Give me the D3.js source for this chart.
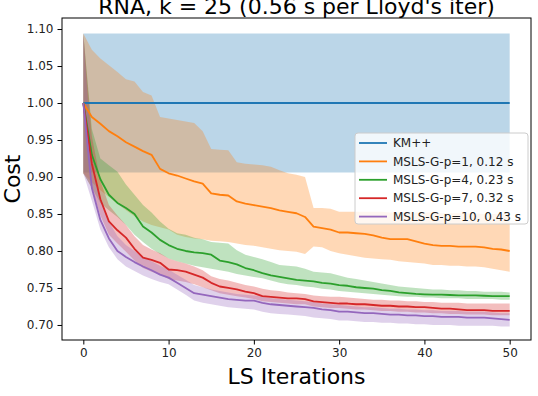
<!DOCTYPE html>
<html>
<head>
<meta charset="utf-8">
<script src="https://cdn.jsdelivr.net/npm/d3@7"></script>
<style>
  body { margin: 0; background: #fff; }
  svg { display: block; font-family: "DejaVu Sans", sans-serif; }
</style>
</head>
<body>
<svg width="538" height="396"></svg>
<script>
var width = 538,
  height = 396;

// LS iteration index (x axis)
var iters = [0,1,2,3,4,5,6,7,8,9,10,11,12,13,14,15,16,17,18,19,20,21,22,23,24,25,
  26,27,28,29,30,31,32,33,34,35,36,37,38,39,40,41,42,43,44,45,46,47,48,49,50];

// KM++ baseline (normalised cost) and its band
var kmMean = 1.0, kmLo = 0.906, kmHi = 1.094;

var p1Mean = [1.000,0.981,0.972,0.962,0.955,0.947,0.941,0.935,0.930,0.911,0.905,0.902,0.898,0.894,0.891,0.878,0.876,0.875,0.867,0.864,0.862,0.860,0.858,0.855,0.853,0.851,
  0.846,0.833,0.831,0.829,0.825,0.825,0.824,0.823,0.821,0.818,0.816,0.816,0.816,0.813,0.810,0.808,0.807,0.807,0.806,0.806,0.806,0.805,0.803,0.802,0.800];
var p1Hi = [1.094,1.072,1.060,1.051,1.042,1.032,1.029,1.015,1.010,0.981,0.979,0.977,0.975,0.973,0.962,0.938,0.937,0.936,0.920,0.918,0.917,0.916,0.914,0.909,0.905,0.903,
  0.900,0.858,0.858,0.857,0.853,0.853,0.853,0.853,0.853,0.853,0.852,0.852,0.852,0.852,0.852,0.852,0.851,0.851,0.851,0.851,0.851,0.850,0.850,0.850,0.850];
var p1Lo = [0.905,0.893,0.882,0.873,0.864,0.855,0.847,0.840,0.835,0.832,0.829,0.822,0.819,0.817,0.816,0.814,0.813,0.812,0.810,0.808,0.807,0.805,0.803,0.801,0.800,0.799,
  0.796,0.806,0.805,0.800,0.797,0.795,0.793,0.791,0.790,0.789,0.788,0.786,0.785,0.784,0.783,0.781,0.781,0.780,0.780,0.779,0.779,0.778,0.776,0.774,0.772];

var p4Mean = [1.000,0.930,0.897,0.876,0.865,0.858,0.850,0.833,0.825,0.815,0.808,0.803,0.800,0.798,0.797,0.795,0.787,0.785,0.782,0.777,0.774,0.770,0.767,0.765,0.763,0.761,
  0.760,0.759,0.757,0.756,0.754,0.753,0.751,0.750,0.749,0.747,0.746,0.744,0.743,0.742,0.7415,0.741,0.741,0.7405,0.740,0.740,0.740,0.7395,0.739,0.739,0.739];
var p4Hi = [1.094,0.965,0.925,0.916,0.907,0.890,0.876,0.862,0.852,0.840,0.830,0.824,0.822,0.818,0.816,0.812,0.811,0.810,0.801,0.795,0.792,0.789,0.785,0.781,0.780,0.779,
  0.776,0.772,0.771,0.770,0.767,0.764,0.762,0.760,0.758,0.756,0.754,0.752,0.751,0.750,0.749,0.748,0.748,0.747,0.747,0.746,0.746,0.745,0.745,0.745,0.744];
var p4Lo = [0.905,0.885,0.865,0.855,0.846,0.835,0.822,0.812,0.803,0.796,0.790,0.786,0.783,0.780,0.778,0.776,0.774,0.772,0.769,0.767,0.765,0.763,0.760,0.757,0.755,0.754,
  0.752,0.751,0.749,0.748,0.746,0.745,0.744,0.743,0.742,0.741,0.740,0.739,0.738,0.738,0.737,0.737,0.736,0.736,0.736,0.735,0.735,0.735,0.735,0.734,0.734];

var p7Mean = [1.000,0.918,0.870,0.840,0.828,0.818,0.803,0.791,0.788,0.784,0.775,0.774,0.772,0.768,0.764,0.757,0.752,0.750,0.748,0.745,0.743,0.739,0.738,0.737,0.736,0.736,
  0.735,0.732,0.731,0.730,0.729,0.729,0.728,0.728,0.727,0.726,0.726,0.725,0.725,0.724,0.724,0.723,0.722,0.722,0.721,0.720,0.720,0.720,0.719,0.719,0.719];
var p7Hi = [1.094,0.955,0.895,0.862,0.848,0.835,0.820,0.808,0.802,0.797,0.790,0.786,0.783,0.779,0.774,0.766,0.762,0.760,0.757,0.754,0.752,0.749,0.747,0.746,0.744,0.743,
  0.742,0.740,0.739,0.738,0.738,0.737,0.736,0.735,0.734,0.734,0.733,0.733,0.732,0.732,0.731,0.731,0.730,0.730,0.730,0.729,0.729,0.729,0.729,0.729,0.729];
var p7Lo = [0.905,0.885,0.848,0.822,0.810,0.799,0.787,0.777,0.772,0.768,0.762,0.760,0.758,0.755,0.751,0.747,0.743,0.741,0.739,0.737,0.735,0.732,0.731,0.730,0.729,0.728,
  0.728,0.725,0.724,0.723,0.723,0.722,0.721,0.721,0.720,0.719,0.719,0.718,0.718,0.717,0.717,0.716,0.716,0.715,0.715,0.714,0.714,0.714,0.713,0.713,0.713];

var p10Mean = [1.000,0.885,0.842,0.817,0.800,0.792,0.785,0.779,0.774,0.768,0.764,0.757,0.750,0.743,0.741,0.739,0.737,0.735,0.734,0.733,0.733,0.730,0.728,0.727,0.726,0.725,
  0.724,0.723,0.721,0.720,0.718,0.718,0.717,0.716,0.716,0.715,0.714,0.714,0.713,0.713,0.712,0.712,0.711,0.711,0.711,0.710,0.710,0.710,0.709,0.708,0.707];
var p10Hi = [1.094,0.925,0.868,0.840,0.820,0.808,0.800,0.792,0.786,0.780,0.775,0.768,0.761,0.754,0.751,0.748,0.746,0.744,0.742,0.741,0.740,0.738,0.736,0.735,0.734,0.733,
  0.732,0.731,0.729,0.728,0.727,0.726,0.725,0.724,0.724,0.723,0.722,0.722,0.721,0.721,0.720,0.720,0.719,0.719,0.719,0.718,0.718,0.718,0.717,0.716,0.716];
var p10Lo = [0.905,0.868,0.829,0.805,0.789,0.779,0.773,0.767,0.762,0.758,0.755,0.748,0.741,0.733,0.730,0.728,0.726,0.724,0.723,0.722,0.721,0.718,0.716,0.715,0.714,0.713,
  0.712,0.710,0.709,0.708,0.706,0.706,0.705,0.704,0.704,0.703,0.703,0.702,0.702,0.701,0.701,0.700,0.700,0.700,0.699,0.699,0.699,0.699,0.699,0.698,0.698];

var labels = ["KM++", "MSLS-G-p=1, 0.12 s", "MSLS-G-p=4, 0.23 s", "MSLS-G-p=7, 0.32 s", "MSLS-G-p=10, 0.43 s"];
var colors = ["#1f77b4", "#ff7f0e", "#2ca02c", "#d62728", "#9467bd"];
var xTicks = [0, 10, 20, 30, 40, 50];
var yTicks = [0.70, 0.75, 0.80, 0.85, 0.90, 0.95, 1.00, 1.05, 1.10];

// plot frame (named so as not to clash with window.top)
var plotL = 62, plotR = 531, plotT = 18, plotB = 340;

var x = d3.scaleLinear().domain([-2.5, 52.5]).range([plotL, plotR]);
var y = d3.scaleLinear().domain([0.6797, 1.1149]).range([plotB, plotT]);

var svg = d3.select("svg");

var series = [
  { mean: iters.map(() => kmMean), lo: iters.map(() => kmLo), hi: iters.map(() => kmHi) },
  { mean: p1Mean, lo: p1Lo, hi: p1Hi },
  { mean: p4Mean, lo: p4Lo, hi: p4Hi },
  { mean: p7Mean, lo: p7Lo, hi: p7Hi },
  { mean: p10Mean, lo: p10Lo, hi: p10Hi }
];

var area = d3.area()
  .x(d => x(d.i))
  .y0(d => y(d.lo))
  .y1(d => y(d.hi));

var line = d3.line()
  .x(d => x(d.i))
  .y(d => y(d.v));

// bands first (matplotlib draws fills under lines)
series.forEach((s, k) => {
  svg.append("path")
    .datum(iters.map((it, j) => ({ i: it, lo: s.lo[j], hi: s.hi[j] })))
    .attr("d", area)
    .attr("fill", colors[k])
    .attr("fill-opacity", 0.3);
});

series.forEach((s, k) => {
  svg.append("path")
    .datum(iters.map((it, j) => ({ i: it, v: s.mean[j] })))
    .attr("d", line)
    .attr("fill", "none")
    .attr("stroke", colors[k])
    .attr("stroke-width", 1.8)
    .attr("stroke-linejoin", "round");
});

// axes
var xAxis = d3.axisBottom(x).tickValues(xTicks).tickSize(4.5).tickPadding(4).tickFormat(d3.format("d"));
var yAxis = d3.axisLeft(y).tickValues(yTicks).tickSize(4.5).tickPadding(4).tickFormat(d3.format(".2f"));

var gx = svg.append("g").attr("transform", "translate(0," + plotB + ")").call(xAxis);
var gy = svg.append("g").attr("transform", "translate(" + plotL + ",0)").call(yAxis);
[gx, gy].forEach(g => {
  g.select(".domain").remove();
  g.selectAll("text").attr("font-size", 12).attr("fill", "#222").attr("font-family", "DejaVu Sans");
  g.selectAll("line").attr("stroke", "#000").attr("stroke-width", 1);
});

// frame
svg.append("rect")
  .attr("x", plotL).attr("y", plotT)
  .attr("width", plotR - plotL).attr("height", plotB - plotT)
  .attr("fill", "none").attr("stroke", "#000").attr("stroke-width", 1);

// legend
var lg = svg.append("g").attr("transform", "translate(355,133)");
lg.append("rect")
  .attr("width", 173).attr("height", 91).attr("rx", 3)
  .attr("fill", "#fff").attr("fill-opacity", 0.8)
  .attr("stroke", "#cccccc").attr("stroke-width", 1);
labels.forEach((t, k) => {
  var yy = 10 + k * 18.4;
  lg.append("line")
    .attr("x1", 4).attr("x2", 32).attr("y1", yy).attr("y2", yy)
    .attr("stroke", colors[k]).attr("stroke-width", 1.8);
  lg.append("text")
    .attr("x", 38).attr("y", yy).attr("dy", "0.35em")
    .attr("font-size", 12).attr("fill", "#222").text(t);
});

// labels
svg.append("text")
  .attr("x", (plotL + plotR) / 2).attr("y", 14)
  .attr("text-anchor", "middle").attr("font-size", 22)
  .text("RNA, k = 25 (0.56 s per Lloyd's iter)");

svg.append("text")
  .attr("x", (plotL + plotR) / 2).attr("y", 384)
  .attr("text-anchor", "middle").attr("font-size", 22)
  .text("LS Iterations");

svg.append("text")
  .attr("transform", "translate(20," + (plotT + plotB) / 2 + ") rotate(-90)")
  .attr("text-anchor", "middle").attr("font-size", 22)
  .text("Cost");
</script>
</body>
</html>
